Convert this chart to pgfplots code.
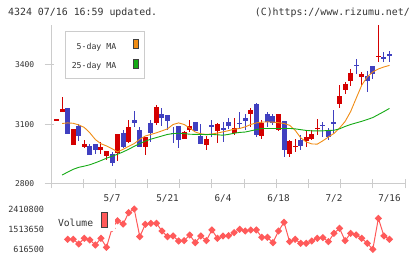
\documentclass[border=0pt]{standalone}
\usepackage{pgfplots}
\pgfplotsset{compat=1.18}
\usepackage{pgfplotstable}
\usepackage{fontspec}
\setmainfont{DejaVu Sans Mono}
\definecolor{candleRed}{RGB}{212,0,0}
\definecolor{candleBlue}{RGB}{64,64,192}
\definecolor{maOrange}{RGB}{240,140,20}
\definecolor{maGreen}{RGB}{20,170,20}
\definecolor{volRed}{RGB}{255,90,90}
\definecolor{axisGray}{RGB}{204,204,204}
\definecolor{txt}{RGB}{51,51,51}

% red candles (close >= open)
\pgfplotstableread{
x o h l c
0 3125 3125 3125 3125
1 3165 3239 3164 3177
3 2997 3078 2997 3075
5 2987 3021 2979 3004
8 2971 3012 2950 2987
9 2942 2967 2920 2967
11 2954 3050 2915 3050
13 3012 3122 3008 3085
16 2987 3038 2945 3038
18 3105 3199 3095 3189
23 3029 3066 3026 3063
24 3071 3125 3063 3091
27 2996 3043 2971 3026
29 3068 3105 3007 3102
32 3055 3135 3046 3080
35 3152 3181 3088 3172
37 3043 3122 3029 3105
40 3071 3155 3068 3152
42 2950 3021 2937 3016
43 2989 3026 2959 2991
45 3016 3071 2984 3038
46 3027 3071 3021 3051
47 3079 3127 3046 3081
51 3201 3298 3181 3243
52 3276 3315 3253 3303
53 3320 3379 3295 3360
55 3340 3365 3295 3357
58 3443 3610 3416 3445
}\redtab

% blue candles (close < open)
\pgfplotstableread{
x o h l c
2 3182 3182 3053 3053
4 3091 3100 3018 3043
6 2991 3004 2945 2945
7 3001 3001 2950 2971
10 2950 2960 2892 2905
12 3055 3072 2980 2987
14 3122 3169 3085 3108
15 3071 3088 2984 2984
17 3105 3122 3012 3058
19 3152 3181 3091 3135
20 3147 3147 3071 3118
21 3058 3088 3009 3052
22 3091 3091 2979 3024
25 3112 3112 3068 3068
26 3043 3102 3001 3001
28 3098 3122 3038 3088
30 3080 3112 3012 3071
31 3115 3135 3075 3091
33 3110 3162 3075 3100
34 3133 3155 3071 3117
36 3202 3209 3038 3046
38 3152 3164 3088 3113
39 3142 3155 3095 3105
41 3117 3117 2937 2971
44 3024 3046 2971 2992
48 3097 3113 3038 3095
49 3068 3080 3024 3038
50 3109 3172 3055 3107
54 3400 3428 3352 3398
56 3343 3370 3264 3320
57 3394 3394 3330 3353
59 3438 3463 3416 3428
60 3454 3469 3416 3446
}\bluetab

\pgfplotstableread{
x ma5 ma25
1 3105 2845
2 3108 2860
3 3106 2874
4 3098 2884
5 3085 2890
6 3058 2897
7 3024 2907
8 3003 2918
9 2992 2930
10 2978 2940
11 2962 2950
12 2975 2962
13 2990 2975
14 3004 2990
15 3025 3004
16 3042 3016
17 3050 3026
18 3058 3034
19 3068 3042
20 3078 3050
21 3100 3054
22 3108 3056
23 3100 3054
24 3082 3051
25 3062 3050
26 3053 3050
27 3050 3049
28 3052 3050
29 3057 3048
30 3063 3046
31 3069 3050
32 3076 3056
33 3080 3060
34 3088 3062
35 3100 3068
36 3108 3074
37 3112 3080
38 3113 3080
39 3112 3080
40 3109 3080
41 3105 3080
42 3096 3080
43 3071 3078
44 3033 3074
45 3012 3070
46 3002 3068
47 3001 3068
48 3018 3068
49 3037 3070
50 3055 3071
51 3082 3078
52 3115 3090
53 3165 3100
54 3232 3108
55 3298 3116
56 3340 3125
57 3365 3135
58 3380 3150
59 3390 3165
60 3398 3181
}\matab

\pgfplotstableread{
x v
2 1061000
3 1061000
4 854000
5 1106000
6 1032000
7 809000
8 1106000
9 705000
10 1550000
11 1885000
12 1743000
13 2248000
14 2410800
15 1180000
16 1729000
17 1773000
18 1773000
19 1432000
20 1180000
21 1210000
22 987000
23 1002000
24 1254000
25 913000
26 1210000
27 1002000
28 1477000
29 1106000
30 1210000
31 1224000
32 1358000
33 1506000
34 1432000
35 1477000
36 1477000
37 1150000
38 1150000
39 913000
40 1432000
41 1818000
42 958000
43 1061000
44 883000
45 883000
46 987000
47 1106000
48 1135000
49 958000
50 1328000
51 1551000
52 1002000
53 1328000
54 1254000
55 1106000
56 883000
57 616500
58 1996000
59 1210000
60 1061000
}\voltab

\begin{document}
\begin{tikzpicture}
\path[use as bounding box] (0,0) rectangle (420pt,259pt);

\node[anchor=west, inner sep=0pt, text=txt, font=\fontsize{9.9}{11}\selectfont] at (8pt,246.5pt) {4324 07/16 16:59 updated.};
\node[anchor=east, inner sep=0pt, text=txt, font=\fontsize{9.9}{11}\selectfont] at (410pt,246.5pt) {(C)https://www.rizumu.net/};

\begin{axis}[
  at={(51pt,75pt)}, anchor=south west,
  scale only axis, width=354pt, height=158.7pt,
  xmin=-1, xmax=62.8, ymin=2800, ymax=3600,
  axis lines*=left,
  axis line style={draw=axisGray, line width=1pt, -},
  tick align=center, major tick length=9pt,
  tick style={draw=axisGray, line width=1pt},
  ytick style={xshift=-2pt},
  xtick={-1,4.8,10.6,16.4,22.2,28,33.8,39.6,45.4,51.2,57,62.8},
  xticklabels={},
  extra x ticks={10,20,30,40,50,60},
  extra x tick labels={5/7,5/21,6/4,6/18,7/2,7/16},
  extra x tick style={major tick length=0pt},
  xticklabel style={font=\fontsize{9.3}{10}\selectfont, text=txt, yshift=-7pt},
  ytick={2800,3100,3400}, yticklabels={2800,3100,3400},
  yticklabel style={font=\fontsize{8}{9}\selectfont, text=txt, anchor=east, inner sep=0pt, xshift=-12pt},
  legend plot pos=right,
  legend cell align=right,
  legend style={at={(0.0404,0.966)}, anchor=north west, draw=axisGray, line width=1pt, fill=white,
    font=\fontsize{8.2}{9}\selectfont, text=txt, inner xsep=6pt, inner ysep=8pt, row sep=7.5pt,
    nodes={inner sep=0pt},
    /tikz/every odd column/.append style={column sep=16.6pt}},
]
% wicks
\addplot[draw=none, mark=none, forget plot, error bars/.cd, y dir=both, y explicit, error mark=none,
  error bar style={draw=candleRed, solid, line width=1pt}]
  table[x=x, y expr={(\thisrow{h}+\thisrow{l})/2}, y error expr={(\thisrow{h}-\thisrow{l})/2}] {\redtab};
\addplot[draw=none, mark=none, forget plot, error bars/.cd, y dir=both, y explicit, error mark=none,
  error bar style={draw=candleBlue, solid, line width=1pt}]
  table[x=x, y expr={(\thisrow{h}+\thisrow{l})/2}, y error expr={(\thisrow{h}-\thisrow{l})/2}] {\bluetab};
% bodies
\addplot[draw=none, mark=none, forget plot, error bars/.cd, y dir=both, y explicit, error mark=none,
  error bar style={draw=candleRed, solid, line width=5pt}]
  table[x=x, y expr={(\thisrow{o}+\thisrow{c})/2}, y error expr={max(abs(\thisrow{c}-\thisrow{o})/2,2.5)}] {\redtab};
\addplot[draw=none, mark=none, forget plot, error bars/.cd, y dir=both, y explicit, error mark=none,
  error bar style={draw=candleBlue, solid, line width=5pt}]
  table[x=x, y expr={(\thisrow{o}+\thisrow{c})/2}, y error expr={max(abs(\thisrow{o}-\thisrow{c})/2,2.5)}] {\bluetab};
% moving averages
\addplot[maOrange, line width=0.9pt, mark=none,
  legend image code/.code={\filldraw[fill=maOrange, draw=black!75, line width=0.9pt] (0pt,-1.5pt) rectangle (5pt,7.5pt);}]
  table[x=x, y=ma5] {\matab};
\addlegendentry{5-day MA}
\addplot[maGreen, line width=0.9pt, mark=none,
  legend image code/.code={\filldraw[fill=maGreen, draw=black!75, line width=0.9pt] (0pt,-1.5pt) rectangle (5pt,7.5pt);}]
  table[x=x, y=ma25] {\matab};
\addlegendentry{25-day MA}
\end{axis}

\begin{axis}[
  at={(51pt,9.7pt)}, anchor=south west,
  scale only axis, width=354pt, height=40.3pt,
  xmin=-1, xmax=62.8, ymin=616500, ymax=2410800,
  clip=false,
  scaled y ticks=false,
  axis lines*=left,
  axis line style={draw=none},
  tick style={draw=none}, major tick length=0pt,
  xtick=\empty,
  ytick={616500,1513650,2410800}, yticklabels={616500,1513650,2410800},
  yticklabel style={font=\fontsize{8.5}{9}\selectfont, text=txt, anchor=east, inner sep=0pt, xshift=-6.7pt},
  legend plot pos=right,
  legend style={at={(0.1808,0.715)}, anchor=east, draw=none, fill=white,
    font=\fontsize{9.7}{10}\selectfont, text=txt, inner xsep=7pt, inner ysep=3pt,
    nodes={inner sep=0pt},
    /tikz/every odd column/.append style={column sep=7.7pt}},
]
\addplot[volRed, line width=1pt, mark=square*, mark size=2.1pt,
  mark options={rotate=45, fill=volRed, draw=volRed, solid},
  legend image code/.code={\filldraw[fill=volRed, draw=black!75, line width=1pt] (0pt,-4pt) rectangle (6pt,11pt);}]
  table[x=x, y=v] {\voltab};
\addlegendentry{Volume}
\end{axis}
\end{tikzpicture}
\end{document}
